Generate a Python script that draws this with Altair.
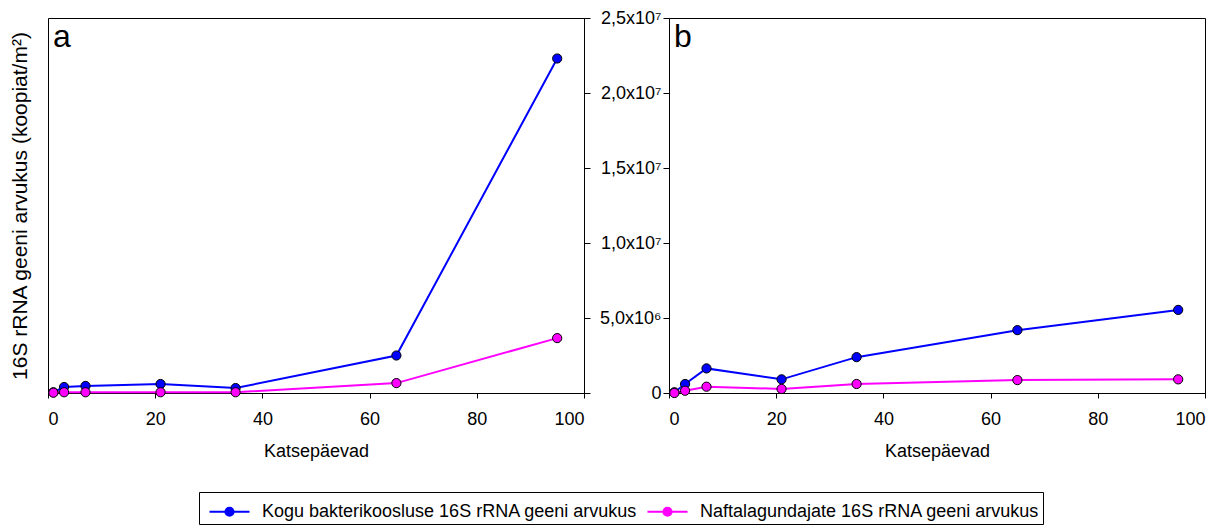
import altair as alt
import pandas as pd

days = [1, 3, 7, 21, 35, 65, 95]
series_names = ["Kogu bakterikoosluse 16S rRNA geeni arvukus",
                "Naftalagundajate 16S rRNA geeni arvukus"]
series_colors = ["#0000FF", "#FF00FF"]

a_total = [0.05e6, 0.40e6, 0.47e6, 0.60e6, 0.33e6, 2.5e6, 22.3e6]
a_nafta = [0.02e6, 0.05e6, 0.05e6, 0.05e6, 0.05e6, 0.66e6, 3.66e6]
b_total = [0.05e6, 0.60e6, 1.64e6, 0.91e6, 2.39e6, 4.19e6, 5.54e6]
b_nafta = [0.0, 0.15e6, 0.42e6, 0.27e6, 0.60e6, 0.86e6, 0.91e6]

x_ticks = [0, 20, 40, 60, 80, 100]
y_ticks = [0, 5e6, 1e7, 1.5e7, 2e7, 2.5e7]
y_tick_labels = ["0", "5,0x10⁶", "1,0x10⁷", "1,5x10⁷", "2,0x10⁷", "2,5x10⁷"]

y_title = "16S rRNA geeni arvukus (koopiat/m²)"
x_title = "Katsepäevad"
FONT = "Liberation Sans"
FS = 18

label_expr = ""
for v, lab in zip(y_ticks, y_tick_labels):
    label_expr += f"datum.value == {v} ? '{lab}' : "
label_expr += "''"


def make_df(total, nafta):
    rows = []
    for d, v in zip(days, total):
        rows.append({"day": d, "value": v, "series": series_names[0]})
    for d, v in zip(days, nafta):
        rows.append({"day": d, "value": v, "series": series_names[1]})
    return pd.DataFrame(rows)


W = 536
H = 375
xscale = alt.Scale(domain=[0, 100], nice=False)
yscale = alt.Scale(domain=[0, 2.5e7], nice=False)
cscale = alt.Scale(domain=series_names, range=series_colors)


def ring(cx, r):
    return (f"M{cx - r:.3f},0A{r},{r},0,1,0,{cx + r:.3f},0"
            f"A{r},{r},0,1,0,{cx - r:.3f},0")


# legend symbol: 30px layout box (unit = 15px); line 40px long, dot in middle
CX = 0.733
legend_path = "M-0.6,0L2.067,0" + "".join(ring(CX, r) for r in (0.267, 0.147, 0.04))


def xaxis():
    return alt.Axis(values=x_ticks, title=x_title, grid=False, tickSize=5,
                    labelPadding=12, titlePadding=14, labelFontSize=FS,
                    titleFontSize=FS, titleFontWeight="normal",
                    domainColor="black", tickColor="black", labelColor="black",
                    titleColor="black")


def panel(df, letter, left_axis, right_ticks):
    base = alt.Chart(df)
    lines = base.mark_line(strokeWidth=2).encode(
        x=alt.X("day:Q", scale=xscale, axis=xaxis()),
        y=alt.Y("value:Q", scale=yscale, axis=left_axis),
        color=alt.Color("series:N", scale=cscale, legend=alt.Legend(
            title=None, orient="none", direction="horizontal",
            legendX=151, legendY=474,
            symbolType=legend_path, symbolSize=900, symbolStrokeWidth=2.2,
            labelFontSize=FS, labelColor="black",
            strokeColor="black", padding=3, columnPadding=2,
            labelOffset=27, labelLimit=600)),
    )
    if right_ticks is not None:
        pts_y = alt.Y("value:Q", scale=yscale, axis=right_ticks)
    else:
        pts_y = alt.Y("value:Q", scale=yscale, axis=left_axis)
    points = base.mark_point(filled=True, size=85, stroke="black",
                             strokeWidth=1, opacity=1).encode(
        x=alt.X("day:Q", scale=xscale, axis=xaxis()),
        y=pts_y,
        fill=alt.Fill("series:N", scale=cscale, legend=None),
    )
    label = alt.Chart(pd.DataFrame({"t": [letter]})).mark_text(
        align="left", baseline="top", fontSize=32, font=FONT, color="black"
    ).encode(text="t:N", x=alt.value(5), y=alt.value(4))
    ch = alt.layer(lines, points, label).properties(width=W, height=H)
    if right_ticks is not None:
        ch = ch.resolve_axis(y="independent")
    return ch


axis_a_left = alt.Axis(values=y_ticks, title=y_title, labels=False, ticks=False,
                       domain=False, grid=False, titlePadding=18,
                       titleFontSize=21, titleFontWeight="normal",
                       titleColor="black")
axis_a_right = alt.Axis(orient="right", values=y_ticks, title=None, labels=False,
                        ticks=True, tickSize=6, grid=False, domainColor="black",
                        tickColor="black")
axis_b_left = alt.Axis(values=y_ticks, title=None, labelExpr=label_expr,
                       tickSize=6, labelPadding=2, grid=False, labelFontSize=FS,
                       domainColor="black", tickColor="black", labelColor="black")

pa = panel(make_df(a_total, a_nafta), "a", axis_a_left, axis_a_right)
pb = panel(make_df(b_total, b_nafta), "b", axis_b_left, None)

chart = alt.hconcat(pa, pb, spacing=8).properties(
    padding={"left": 8, "top": 8, "right": 5, "bottom": 5}
).configure(font=FONT).configure_view(
    stroke="black", strokeWidth=1)

chart.save("out.html", embed_options={"renderer": "svg", "actions": False})
